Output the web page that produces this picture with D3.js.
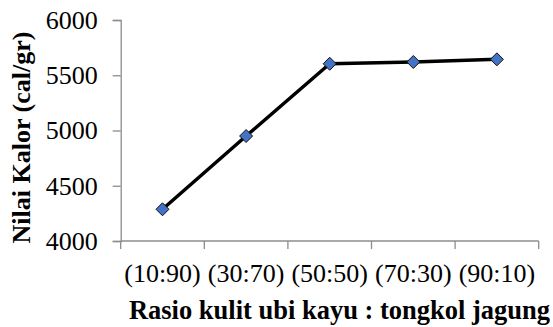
<!DOCTYPE html>
<html><head><meta charset="utf-8">
<script src="https://cdn.jsdelivr.net/npm/d3@7"></script>
<style>body{margin:0;background:#fff}svg{display:block}</style>
</head><body>
<script>
const categories = ["(10:90)", "(30:70)", "(50:50)", "(70:30)", "(90:10)"];
const values = [4287, 4950, 5604, 5620, 5644];
const yTicks = [4000, 4500, 5000, 5500, 6000];
const xTitle = "Rasio kulit ubi kayu : tongkol jagung";
const yTitle = "Nilai Kalor (cal/gr)";

(function () {
const W = 553, H = 327;
const svg = d3.select("body").append("svg").attr("width", W).attr("height", H);
const mLeft = 120.7, mRight = 538.7, mTop = 20, mBottom = 241;
const x = d3.scaleBand().domain(categories).range([mLeft, mRight]).padding(0);
const y = d3.scaleLinear().domain([4000, 6000]).range([mBottom, mTop]);
const axisColor = "#8c8c8c";
const font = "'Liberation Serif','Times New Roman',serif";

// Y axis
const yAxis = svg.append("g").attr("transform", `translate(${mLeft},0)`)
  .call(d3.axisLeft(y).tickValues(yTicks).tickSize(8).tickPadding(15).tickFormat(d3.format("d")));
yAxis.select(".domain").attr("stroke", axisColor).attr("stroke-width", 1.3);
yAxis.selectAll(".tick line").attr("stroke", axisColor).attr("stroke-width", 1.3);
yAxis.selectAll(".tick text").attr("fill", "#000").style("font-family", font).style("font-size", "26px");

// X axis
const xAxis = svg.append("g").attr("transform", `translate(0,${mBottom})`)
  .call(d3.axisBottom(x).tickSize(0).tickPadding(22.5));
xAxis.select(".domain").remove();
xAxis.selectAll(".tick text").attr("fill", "#000").style("font-family", font).style("font-size", "26px");
xAxis.append("line").attr("x1", mLeft).attr("x2", mRight).attr("y1", 0).attr("y2", 0)
  .attr("stroke", axisColor).attr("stroke-width", 1.3);
const bounds = categories.map(c => x(c)).concat([x(categories[categories.length-1]) + x.bandwidth()]);
xAxis.selectAll(".bt").data(bounds).enter().append("line")
  .attr("x1", d => d).attr("x2", d => d).attr("y1", 0).attr("y2", 8)
  .attr("stroke", axisColor).attr("stroke-width", 1.3);

// line
const cx = c => x(c) + x.bandwidth() / 2;
svg.append("path").datum(values)
  .attr("d", d3.line().x((d, i) => cx(categories[i])).y(d => y(d)))
  .attr("fill", "none").attr("stroke", "#000").attr("stroke-width", 3.5).attr("stroke-linejoin", "round");

// markers
svg.selectAll(".m").data(values).enter().append("path")
  .attr("transform", (d, i) => `translate(${cx(categories[i])},${y(d)})`)
  .attr("d", "M0,-6.5L6.5,0L0,6.5L-6.5,0Z")
  .attr("fill", "#4472C4").attr("stroke", "#111").attr("stroke-width", 1);

// titles
svg.append("text").attr("x", 339.5).attr("y", 318.5).attr("text-anchor", "middle")
  .style("font-family", font).style("font-size", "26.5px").style("font-weight", "bold").text(xTitle);
svg.append("text").attr("transform", "translate(30,137.5) rotate(-90)").attr("text-anchor", "middle")
  .style("font-family", font).style("font-size", "26px").style("font-weight", "bold").text(yTitle);
})();
</script>
</body></html>
